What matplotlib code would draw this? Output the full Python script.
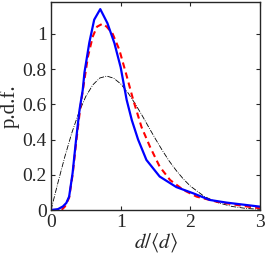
import numpy as np
import matplotlib.pyplot as plt

plt.rcParams['font.family'] = ['Liberation Serif', 'DejaVu Serif']
plt.rcParams['mathtext.fontset'] = 'stix'

# blue solid curve
x_blue = [0, 0.1, 0.17, 0.22, 0.26, 0.31, 0.36, 0.41, 0.455, 0.48, 0.55, 0.62,
          0.707, 0.81, 0.91, 1.0, 1.086, 1.16, 1.25, 1.37, 1.56, 1.80, 2.04,
          2.28, 2.52, 3.0]
y_blue = [0, 0.005, 0.02, 0.04, 0.076, 0.21, 0.40, 0.57, 0.68, 0.78, 0.95,
          1.08, 1.14, 1.06, 0.947, 0.81, 0.625, 0.51, 0.40, 0.284, 0.19, 0.13,
          0.095, 0.057, 0.042, 0.019]

# red dashed curve
x_red = [0, 0.15, 0.2, 0.26, 0.31, 0.36, 0.42, 0.48, 0.53, 0.60, 0.66, 0.74,
         0.80, 0.885, 0.98, 1.08, 1.18, 1.30, 1.42, 1.56, 1.71, 1.90, 2.09,
         2.38, 2.76, 3.0]
y_red = [0, 0, 0.02, 0.07, 0.2, 0.38, 0.58, 0.74, 0.87, 0.985, 1.04, 1.057,
         1.04, 1.0, 0.91, 0.77, 0.625, 0.47, 0.36, 0.246, 0.17, 0.114, 0.076,
         0.047, 0.023, 0.01]

# black dash-dot curve
x_black = [0, 0.1, 0.2, 0.3, 0.4, 0.5, 0.6, 0.7, 0.8, 0.9, 1.0, 1.1, 1.2, 1.3,
           1.4, 1.5, 1.6, 1.7, 1.8, 1.9, 2.0, 2.2, 2.4, 2.6, 2.8, 3.0]
y_black = [0, 0.156, 0.305, 0.439, 0.554, 0.645, 0.710, 0.749, 0.760, 0.748,
           0.716, 0.668, 0.608, 0.542, 0.472, 0.403, 0.337, 0.276, 0.223, 0.176,
           0.136, 0.077, 0.041, 0.020, 0.009, 0.004]

fig = plt.figure(figsize=(2.65, 2.58), dpi=100)
ax = fig.add_axes([0.1925, 0.186, 0.7885, 0.806])

ax.plot(x_black, y_black, color='k', lw=0.6, ls='-.')
ax.plot(x_red, y_red, color='r', lw=1.5, ls=(0, (3, 2)))
ax.plot(x_blue, y_blue, color='b', lw=1.6)

ax.set_xlim(0, 3)
ax.set_ylim(0, 1.18)
ax.set_xticks([0, 1, 2, 3])
ax.set_yticks([0, 0.2, 0.4, 0.6, 0.8, 1])
ax.set_yticklabels(['0', '0.2', '0.4', '0.6', '0.8', '1'])
ax.tick_params(direction='in', top=True, right=True, labelsize=14, length=3,
               width=0.8, pad=3, colors='0.15')
for s in ax.spines.values():
    s.set_linewidth(1.0)
    s.set_color('0.15')
ax.set_xlabel(r'$d/\langle d\rangle$', fontsize=15, labelpad=0, color='0.15')
ax.set_ylabel('p.d.f.', fontsize=15, labelpad=2, color='0.15')

fig.savefig('out.png', dpi=100)
